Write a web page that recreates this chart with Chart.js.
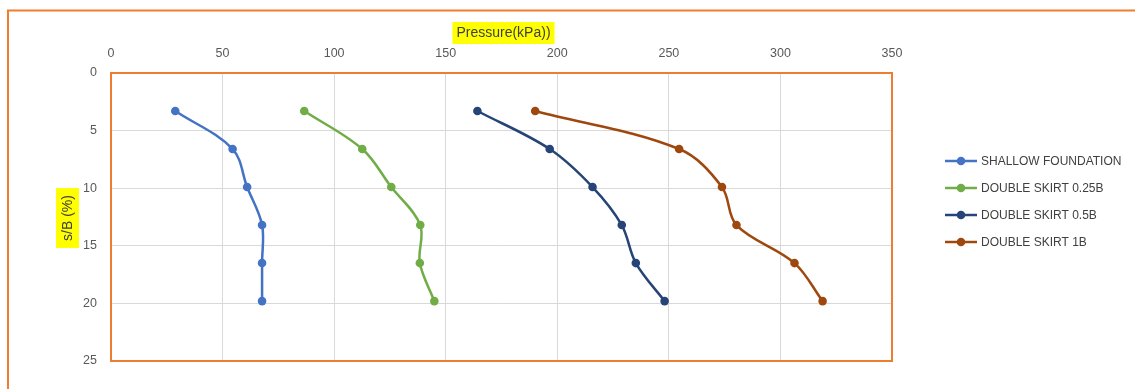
<!DOCTYPE html>
<html>
<head>
<meta charset="utf-8">
<script src="https://cdn.jsdelivr.net/npm/chart.js@4/dist/chart.umd.min.js"></script>
<style>
  html, body { margin: 0; padding: 0; background: #fff; }
  #wrap { width: 1135px; height: 389px; position: relative; }
</style>
</head>
<body>
<div id="wrap"><canvas id="c" width="1135" height="389"></canvas></div>
<script>
// Settlement ratio s/B (%) at each load step
const settlement = [3.3, 6.6, 9.9, 13.2, 16.5, 19.8];

// Pressure (kPa) for each foundation type
const seriesNames = ['SHALLOW FOUNDATION', 'DOUBLE SKIRT 0.25B', 'DOUBLE SKIRT 0.5B', 'DOUBLE SKIRT 1B'];
const shallow   = [28.8, 54.5, 61.0, 67.7, 67.7, 67.7];
const skirt025  = [86.6, 112.6, 125.6, 138.6, 138.4, 144.9];
const skirt05   = [164.2, 196.6, 215.8, 228.9, 235.2, 248.1];
const skirt1    = [190.1, 254.6, 273.8, 280.3, 306.3, 318.9];
const seriesColors = ['#4472C4', '#70AD47', '#264478', '#9E480E'];

// Axis ticks
const pressureTicks = [0, 50, 100, 150, 200, 250, 300, 350];
const settlementTicks = [0, 5, 10, 15, 20, 25];

const xTitle = 'Pressure(kPa))';
const yTitle = 's/B (%)';

const FONT = "'Liberation Sans', Arial, sans-serif";
const ORANGE = '#ED7D31';

function toPoints(xs) {
  return xs.map((x, i) => ({ x: x, y: settlement[i] }));
}

const allSeries = [shallow, skirt025, skirt05, skirt1];
const datasets = allSeries.map((vals, i) => ({
  label: seriesNames[i],
  data: toPoints(vals),
  showLine: true,
  borderColor: seriesColors[i],
  backgroundColor: seriesColors[i],
  borderWidth: 2.5,
  pointRadius: 4.3,
  pointHoverRadius: 4.3,
  pointBorderWidth: 0,
  tension: 0.35
}));

// Frame, axis titles with highlight boxes, plot border and legend
const decorations = {
  id: 'decorations',
  beforeDraw(chart) {
    const ctx = chart.ctx;
    ctx.save();
    ctx.fillStyle = '#fff';
    ctx.fillRect(0, 0, chart.width, chart.height);
    ctx.strokeStyle = ORANGE;
    ctx.lineWidth = 2;
    ctx.strokeRect(8, 10.5, 2000, 2000);
    ctx.restore();
  },
  afterDatasetsDraw(chart) {
    const ctx = chart.ctx;
    const a = chart.chartArea;
    ctx.save();
    // plot area border
    ctx.strokeStyle = ORANGE;
    ctx.lineWidth = 2;
    ctx.strokeRect(a.left, a.top, a.right - a.left, a.bottom - a.top);

    // x axis title
    ctx.font = '14px ' + FONT;
    ctx.textAlign = 'center';
    ctx.textBaseline = 'middle';
    const cx = (a.left + a.right) / 2 + 2;
    const tw = ctx.measureText(xTitle).width;
    ctx.fillStyle = '#FFFF00';
    ctx.fillRect(cx - tw / 2 - 4, 22, tw + 8, 22);
    ctx.fillStyle = '#404040';
    ctx.fillText(xTitle, cx, 33.5);

    // y axis title
    const cy = (a.top + a.bottom) / 2 + 1;
    const th = ctx.measureText(yTitle).width;
    ctx.fillStyle = '#FFFF00';
    ctx.fillRect(56, cy - th / 2 - 7, 23, th + 14);
    ctx.translate(68, cy);
    ctx.rotate(-Math.PI / 2);
    ctx.fillStyle = '#404040';
    ctx.fillText(yTitle, 0, 0);
    ctx.setTransform(1, 0, 0, 1, 0, 0);

    // legend
    const rows = [161, 188, 215, 242];
    ctx.font = '12px ' + FONT;
    ctx.textAlign = 'left';
    ctx.textBaseline = 'middle';
    chart.data.datasets.forEach((ds, i) => {
      const y = rows[i];
      ctx.strokeStyle = ds.borderColor;
      ctx.lineWidth = 2.5;
      ctx.beginPath();
      ctx.moveTo(945, y);
      ctx.lineTo(977, y);
      ctx.stroke();
      ctx.fillStyle = ds.backgroundColor;
      ctx.beginPath();
      ctx.arc(961, y, 4.3, 0, Math.PI * 2);
      ctx.fill();
      ctx.fillStyle = '#404040';
      ctx.fillText(ds.label, 981, y + 0.5);
    });
    ctx.restore();
  }
};

new Chart(document.getElementById('c'), {
  type: 'scatter',
  data: { datasets: datasets },
  options: {
    responsive: false,
    animation: false,
    devicePixelRatio: 1,
    layout: { padding: { left: 0, top: 0, right: 243, bottom: 28 } },
    plugins: {
      legend: { display: false },
      tooltip: { enabled: false }
    },
    scales: {
      x: {
        type: 'linear',
        position: 'top',
        min: pressureTicks[0],
        max: pressureTicks[pressureTicks.length - 1],
        afterBuildTicks(scale) { scale.ticks = pressureTicks.map(v => ({ value: v })); },
        afterFit(scale) { scale.height = 73; },
        grid: { color: '#D9D9D9', lineWidth: 1, drawTicks: false },
        border: { display: false },
        ticks: { color: '#595959', font: { family: FONT, size: 12.5 }, padding: 12, maxRotation: 0 }
      },
      y: {
        type: 'linear',
        reverse: true,
        min: settlementTicks[0],
        max: settlementTicks[settlementTicks.length - 1],
        afterBuildTicks(scale) { scale.ticks = settlementTicks.map(v => ({ value: v })); },
        afterFit(scale) { scale.width = 111; },
        grid: { color: '#D9D9D9', lineWidth: 1, drawTicks: false },
        border: { display: false },
        ticks: { color: '#595959', font: { family: FONT, size: 12.5 }, padding: 14 }
      }
    }
  },
  plugins: [decorations]
});
</script>
</body>
</html>
